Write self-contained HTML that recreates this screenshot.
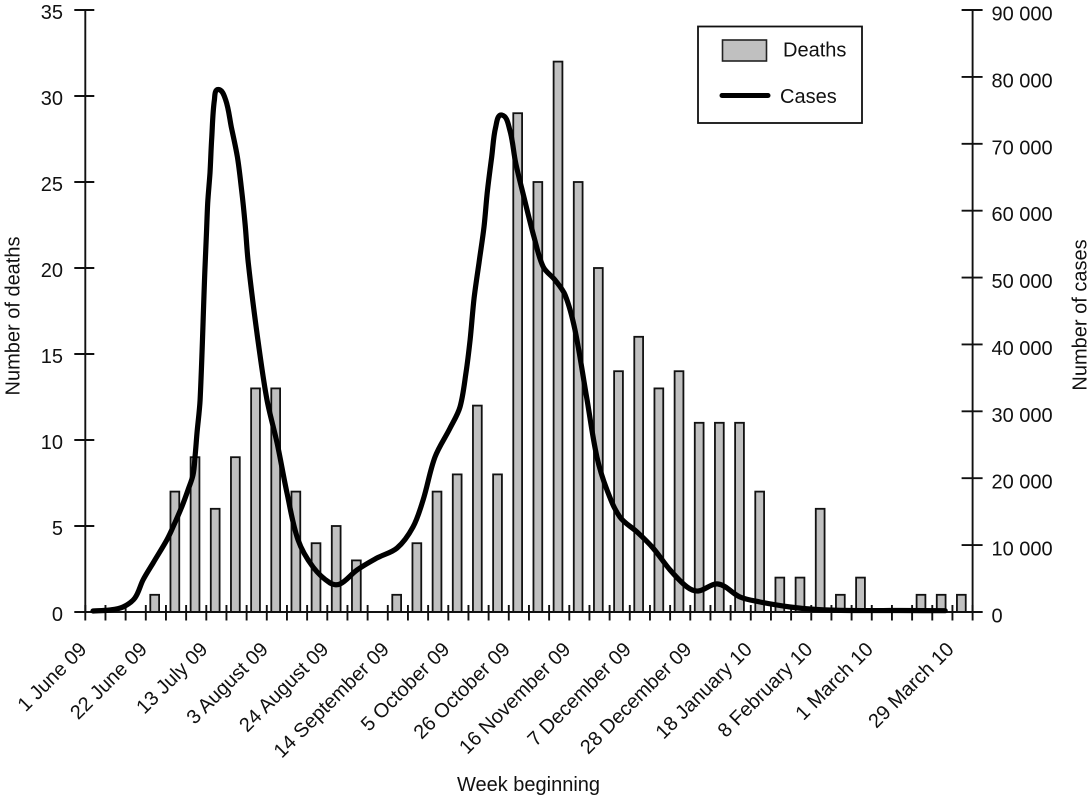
<!DOCTYPE html>
<html lang="en">
<head>
<meta charset="utf-8">
<title>Weekly deaths and cases</title>
<style>
html,body{margin:0;padding:0;background:#fff;}
svg{display:block;}
text{font-family:"Liberation Sans",Arial,sans-serif;font-size:20px;fill:#111;}
</style>
</head>
<body>
<svg id="chart" xmlns="http://www.w3.org/2000/svg" width="1092" height="797" viewBox="0 0 1092 797">
  <rect x="0" y="0" width="1092" height="797" fill="#fff"/>
  <g id="bars"></g>
  <g id="axes"></g>
  <g id="line"></g>
  <text transform="translate(19.5,316) rotate(-90)" text-anchor="middle">Number of deaths</text>
  <text transform="translate(1086.5,315) rotate(-90)" text-anchor="middle">Number of cases</text>
  <text x="528.5" y="791" text-anchor="middle">Week beginning</text>
  <g>
    <rect x="698" y="26.5" width="164" height="96.5" fill="#fff" stroke="#111" stroke-width="1.8"/>
    <rect x="722.5" y="40" width="44" height="21" fill="#c0c0c0" stroke="#222" stroke-width="1.6"/>
    <text x="783" y="56.5">Deaths</text>
    <line x1="722" y1="95.5" x2="768" y2="95.5" stroke="#000" stroke-width="5" stroke-linecap="round"/>
    <text x="780" y="103">Cases</text>
  </g>
</svg>
<script>
const deaths = [0,0,0,1,7,9,6,9,13,13,7,4,5,3,0,1,4,7,8,12,8,29,25,32,25,20,14,16,13,14,11,11,11,7,2,2,6,1,2,0,0,1,1,1];
const caseWeeks = [-0.06,0.78,1.43,2.02,2.42,2.92,3.60,3.91,4.34,4.65,4.90,5.0,5.10,5.25,5.49,5.56,5.63,5.74,5.83,5.96,6.15,6.52,6.80,7.10,7.31,7.48,7.64,8.12,8.57,9.07,9.56,10.11,10.85,11.70,12.19,13.03,14.02,15.02,15.81,16.31,16.90,17.65,18.14,18.44,18.64,18.84,19.08,19.33,19.49,19.71,19.91,20.21,20.61,20.90,21.31,21.81,22.27,22.85,23.35,23.84,24.44,24.93,25.43,26.07,26.92,27.71,28.56,29.40,29.95,30.94,32.03,33.02,34.51,35.84,37.48,39.96,42.2];
const caseValues = [150,300,750,2090,4780,7330,10760,12710,15700,18240,20480,23170,26760,31700,51130,56060,61150,65630,71010,76540,78110,76540,72510,68020,63090,58160,52180,40660,31700,25270,17790,10760,6730,4340,4190,6280,8070,9570,12710,16740,23170,27510,30650,35880,40660,46940,52180,57560,62640,68020,72510,74300,72060,67130,62040,56060,51580,49630,47390,42160,31700,23170,18240,14200,11960,9570,6280,3740,3140,4190,2240,1500,750,370,220,220,190];
const deathTicks = [0,5,10,15,20,25,30,35];
const caseTicks = [0,10000,20000,30000,40000,50000,60000,70000,80000,90000];
const caseTickLabels = ["0","10 000","20 000","30 000","40 000","50 000","60 000","70 000","80 000","90 000"];
const dateLabels = ["1 June 09","22 June 09","13 July 09","3 August 09","24 August 09","14 September 09","5 October 09","26 October 09","16 November 09","7 December 09","28 December 09","18 January 10","8 February 10","1 March 10","29 March 10"];
const dateLabelWeeks = [0,3,6,9,12,15,18,21,24,27,30,33,36,39,43];
const weekCount = 44;

const NS = "http://www.w3.org/2000/svg";
const axisLeft = 85.3, axisRight = 972.6, axisBottom = 612, axisTop = 10;
const weekWidth = (axisRight - axisLeft) / weekCount;
const xTick = w => axisLeft + weekWidth * w;
const xCenter = w => xTick(w) + 8.9;
const yDeaths = v => axisBottom - (axisBottom - axisTop) * v / 35;
const yCases = v => axisBottom - (axisBottom - axisTop) * v / 90000;

const make = (parent, tag, attrs) => {
  const el = document.createElementNS(NS, tag);
  Object.keys(attrs).forEach(k => el.setAttribute(k, attrs[k]));
  parent.appendChild(el);
  return el;
};
const tickStyle = {stroke: "#111", "stroke-width": 1.9};

const barsG = document.getElementById("bars");
deaths.forEach((v, i) => {
  if (v <= 0) return;
  const el = make(barsG, "rect", {x: xCenter(i) - 4.4, y: yDeaths(v), width: 8.8, height: axisBottom - yDeaths(v), fill: "#c0c0c0", stroke: "#111", "stroke-width": 1.8});
  
  
});

const axesG = document.getElementById("axes");
const leftAxis = make(axesG, "line", Object.assign({x1: axisLeft, y1: axisTop, x2: axisLeft, y2: axisBottom}, tickStyle));


const rightAxis = make(axesG, "line", Object.assign({x1: axisRight, y1: axisTop, x2: axisRight, y2: axisBottom}, tickStyle));


const bottomAxis = make(axesG, "line", Object.assign({x1: axisLeft - 10, y1: axisBottom, x2: axisRight + 10, y2: axisBottom}, tickStyle));



deathTicks.forEach(v => {
  const y = yDeaths(v);
  const t = make(axesG, "line", Object.assign({x1: axisLeft - 11, y1: y, x2: axisLeft + 9, y2: y}, tickStyle));
  
  
  const lab = make(axesG, "text", {x: 63, y: y + 9, "text-anchor": "end"});
  
  
  lab.textContent = String(v);
});

caseTicks.forEach((v, i) => {
  const y = yCases(v);
  const t = make(axesG, "line", Object.assign({x1: axisRight - 11, y1: y, x2: axisRight + 10, y2: y}, tickStyle));
  
  
  const lab = make(axesG, "text", {x: 991.5, y: y + 10.5});
  
  
  lab.textContent = caseTickLabels[i];
});

for (let w = 0; w <= weekCount; w++) {
  const x = xTick(w);
  const t = make(axesG, "line", Object.assign({x1: x, y1: axisBottom - 7, x2: x, y2: axisBottom + 8.5}, tickStyle));
  
  
}

dateLabels.forEach((s, i) => {
  const x = xTick(dateLabelWeeks[i]) + 2.5;
  const lab = make(axesG, "text", {transform: "translate(" + x + ",650.5) rotate(-45)", "text-anchor": "end"});
  
  
  lab.textContent = s;
});

const smoothPath = p => {
  let d = "M" + p[0][0].toFixed(1) + " " + p[0][1].toFixed(1);
  const tangent = i => {
    const a = p[Math.max(i - 1, 0)], b = p[Math.min(i + 1, p.length - 1)];
    const dx = b[0] - a[0], dy = b[1] - a[1], n = Math.hypot(dx, dy) || 1;
    return [dx / n, dy / n];
  };
  for (let i = 0; i < p.length - 1; i++) {
    const len = Math.hypot(p[i + 1][0] - p[i][0], p[i + 1][1] - p[i][1]) / 3;
    const t0 = tangent(i), t1 = tangent(i + 1);
    d += " C" + (p[i][0] + t0[0] * len).toFixed(1) + " " + (p[i][1] + t0[1] * len).toFixed(1) + " " +
         (p[i + 1][0] - t1[0] * len).toFixed(1) + " " + (p[i + 1][1] - t1[1] * len).toFixed(1) + " " +
         p[i + 1][0].toFixed(1) + " " + p[i + 1][1].toFixed(1);
  }
  return d;
};

const lineG = document.getElementById("line");
const pts = caseWeeks.map((w, i) => [xCenter(w), yCases(caseValues[i])]);
const casesLine = make(lineG, "path", {d: smoothPath(pts), fill: "none", stroke: "#000", "stroke-width": 5.2, "stroke-linejoin": "round", "stroke-linecap": "round"});


</script>
</body>
</html>
